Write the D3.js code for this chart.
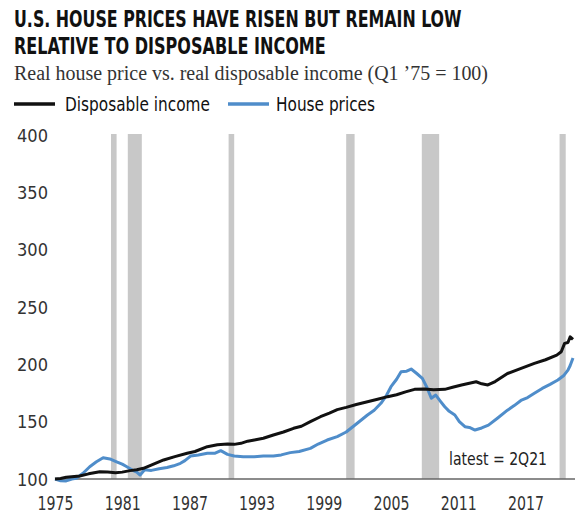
<!DOCTYPE html>
<html><head><meta charset="utf-8">
<script src="https://cdn.jsdelivr.net/npm/d3@7"></script>
<style>
html,body{margin:0;padding:0;background:#fff;}
svg{display:block;}
</style></head>
<body>
<svg id="chart" width="587" height="525"></svg>
<script>
// ---- data ----
const incomeYears = [1975.0,1975.5,1976.0,1976.5,1977.2,1978.0,1979.0,1979.7,1980.4,1981.0,1981.7,1982.3,1982.9,1983.8,1984.7,1985.7,1986.8,1987.5,1988.6,1989.5,1990.4,1991.0,1991.6,1992.2,1992.8,1993.6,1994.5,1995.4,1996.3,1997.0,1997.8,1998.7,1999.5,2000.2,2001.0,2001.9,2002.9,2003.8,2004.7,2005.5,2006.3,2007.1,2008.0,2008.8,2009.8,2010.5,2011.3,2012.0,2012.6,2013.1,2013.65,2014.3,2015.4,2016.5,2017.8,2018.8,2019.8,2020.2,2020.5,2020.8,2021.0,2021.25];
const incomeValues = [100,100.5,101.5,102,102.6,104.5,106.4,106,105.5,106,107.3,108,109.3,113,116.6,119.5,122.4,124,128.2,129.8,130.5,130.2,131.1,133,134,135.5,138.4,141,144.2,146,150,154.3,157.5,160.5,162.5,165,167.4,169.5,171.8,173.5,176,178.2,178.5,177.8,178.2,180,182,183.5,184.8,183,182,185,192,196,200.8,204,208,211,218.3,219,224,221.8];

const houseYears = [1975.0,1975.5,1976.0,1976.5,1976.9,1977.5,1978.1,1978.7,1979.3,1979.9,1980.5,1981.0,1981.3,1981.9,1982.3,1982.6,1983.0,1983.6,1984.3,1985.0,1985.6,1986.2,1986.6,1987.1,1987.8,1988.6,1989.3,1989.8,1990.4,1991.0,1991.8,1992.8,1993.6,1994.5,1995.2,1996.0,1996.8,1997.8,1998.5,1999.3,2000.2,2001.0,2001.9,2002.9,2003.5,2004.1,2004.6,2005.0,2005.5,2005.9,2006.4,2006.8,2007.3,2007.8,2008.2,2008.6,2009.0,2009.4,2009.8,2010.2,2010.7,2011.1,2011.6,2012.0,2012.5,2013.1,2013.7,2014.5,2015.4,2016.0,2016.6,2017.2,2017.8,2018.5,2019.2,2019.9,2020.4,2020.8,2021.0,2021.25];
const houseValues = [100,98.5,98.3,100,100.6,105,110.7,115,118.6,117.5,115,113,111.3,107.8,106,103.5,108,107.5,109,110,111.5,113.7,116,120,121,122.4,122.5,124.7,121.5,120,119.5,119.5,120,120,121,123,124,126.7,130.5,134,137,141,148,155.8,160,166,173,180.5,187,193.5,194,195.9,192,187.8,180,170.4,173.2,168,163,159,155.8,150,145.6,145,142.7,144.5,147,153,160,164,168.5,171,174.7,179,182.5,186.3,190,195,199,205.5];

const recessionStarts = [1980.0,1981.5,1990.5,2001.0,2007.75,2020.05];
const recessionEnds   = [1980.5,1982.75,1991.0,2001.75,2009.3,2020.6];

const xTicks = [1975,1981,1987,1993,1999,2005,2011,2017];
const yTicks = [100,150,200,250,300,350,400];

const seriesNames = ["Disposable income","House prices"];
const seriesColors = ["#111111","#4f8dca"];

// ---- chart ----
const svg = d3.select("#chart");
const narrow = "'Liberation Sans Narrow','DejaVu Sans Condensed','Roboto',sans-serif";

const x = d3.scaleLinear().domain([1975, 2021.25]).range([55, 573]);
const y = d3.scaleLinear().domain([100, 400]).range([479, 135]);

// title (horizontally condensed with a scale transform)
function condensedTitle(txt, tx, ty, targetW){
  const g = svg.append("g").attr("transform",`translate(${tx},${ty})`);
  const t = g.append("text").attr("x",0).attr("y",0)
    .attr("font-family",narrow).attr("font-weight","bold").attr("font-size",23)
    .attr("fill","#111").text(txt);
  const w = t.node().getComputedTextLength();
  g.attr("transform",`translate(${tx},${ty}) scale(${targetW/w},1)`);
}
condensedTitle("U.S. HOUSE PRICES HAVE RISEN BUT REMAIN LOW", 14, 27, 448);
condensedTitle("RELATIVE TO DISPOSABLE INCOME", 14, 54, 312);

svg.append("text").attr("x",14).attr("y",80)
  .attr("font-family","'Liberation Serif','DejaVu Serif',serif").attr("font-size",20)
  .attr("fill","#333").attr("textLength",474).attr("lengthAdjust","spacingAndGlyphs")
  .text("Real house price vs. real disposable income (Q1 \u201975 = 100)");

// legend
const legX = [14, 228], legTextX = [65, 276], legW = [145, 99];
seriesNames.forEach((n,i)=>{
  svg.append("line").attr("x1",legX[i]).attr("x2",legX[i]+41).attr("y1",104).attr("y2",104)
    .attr("stroke",seriesColors[i]).attr("stroke-width",3.5);
  svg.append("text").attr("x",legTextX[i]).attr("y",111)
    .attr("font-family",narrow).attr("font-size",19).attr("fill","#111")
    .attr("textLength",legW[i]).attr("lengthAdjust","spacingAndGlyphs").text(n);
});

// recession bars
svg.append("g").selectAll("rect").data(recessionStarts).join("rect")
  .attr("x",(d)=>x(d))
  .attr("width",(d,i)=>x(recessionEnds[i])-x(d))
  .attr("y",y(400)-1)
  .attr("height",y(100)-y(400)+1)
  .attr("fill","#c8c8c8");

// y axis labels
const yAxis = d3.axisLeft(y).tickValues(yTicks).tickSize(0).tickPadding(0);
const gy = svg.append("g").attr("transform","translate(48,0)").call(yAxis);
gy.select(".domain").remove();
gy.selectAll("text").attr("font-family",narrow).attr("font-size",18).attr("fill","#333")
  .attr("textLength",31).attr("lengthAdjust","spacingAndGlyphs").attr("dy","0.35em");

// x axis
const xAxis = d3.axisBottom(x).tickValues(xTicks).tickFormat(d3.format("d")).tickSize(0).tickPadding(0);
const gx = svg.append("g").attr("transform","translate(0,479)").call(xAxis);
gx.select(".domain").remove();
gx.selectAll("text").attr("font-family",narrow).attr("font-size",20).attr("fill","#333")
  .attr("textLength",36).attr("lengthAdjust","spacingAndGlyphs").attr("dy",null).attr("y",31);
svg.append("line").attr("x1",x(1975)).attr("x2",x(2021.25)+2).attr("y1",y(100)).attr("y2",y(100))
  .attr("stroke","#666").attr("stroke-width",1.5);

// lines
const lineGen = d3.line().x(d=>x(d[0])).y(d=>y(d[1]));
const incomeData = incomeYears.map((t,i)=>[t,incomeValues[i]]);
const houseData = houseYears.map((t,i)=>[t,houseValues[i]]);
svg.append("path").datum(houseData).attr("d",lineGen).attr("fill","none")
  .attr("stroke",seriesColors[1]).attr("stroke-width",3).attr("stroke-linejoin","round");
svg.append("path").datum(incomeData).attr("d",lineGen).attr("fill","none")
  .attr("stroke",seriesColors[0]).attr("stroke-width",3).attr("stroke-linejoin","round");

// annotation
svg.append("text").attr("x",498).attr("y",465).attr("text-anchor","middle")
  .attr("font-family",narrow).attr("font-size",18).attr("fill","#222")
  .attr("textLength",98).attr("lengthAdjust","spacingAndGlyphs").text("latest = 2Q21");
</script>
</body></html>
